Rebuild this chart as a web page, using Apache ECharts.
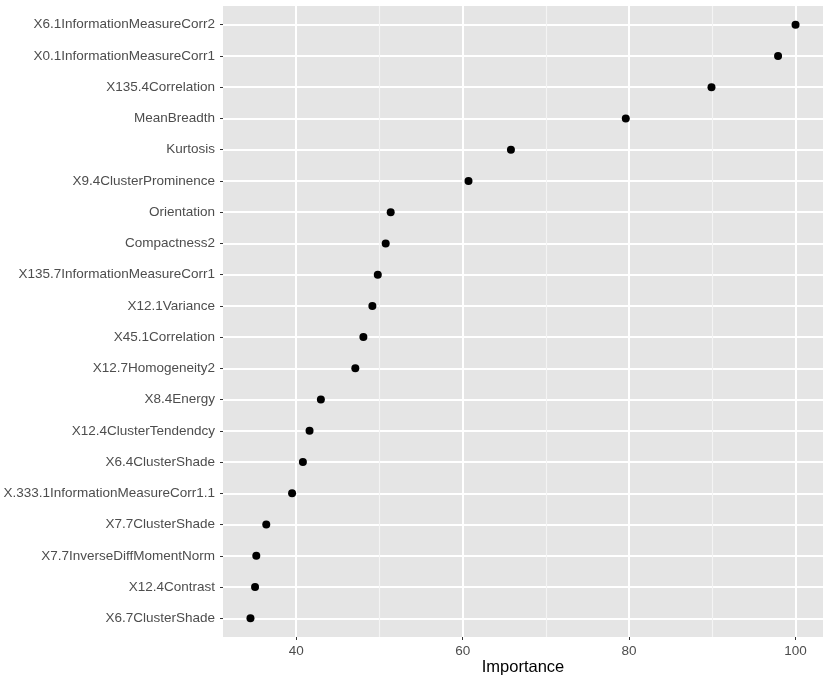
<!DOCTYPE html>
<html>
<head>
<meta charset="utf-8">
<script src="https://cdn.jsdelivr.net/npm/echarts@6/dist/echarts.min.js"></script>
<style>
  html, body { margin: 0; padding: 0; background: #fff; }
  #chart { width: 829px; height: 683px; }
</style>
</head>
<body>
<div id="chart"></div>
<script>
// features, top to bottom
var categories = [
  'X6.1InformationMeasureCorr2',
  'X0.1InformationMeasureCorr1',
  'X135.4Correlation',
  'MeanBreadth',
  'Kurtosis',
  'X9.4ClusterProminence',
  'Orientation',
  'Compactness2',
  'X135.7InformationMeasureCorr1',
  'X12.1Variance',
  'X45.1Correlation',
  'X12.7Homogeneity2',
  'X8.4Energy',
  'X12.4ClusterTendendcy',
  'X6.4ClusterShade',
  'X.333.1InformationMeasureCorr1.1',
  'X7.7ClusterShade',
  'X7.7InverseDiffMomentNorm',
  'X12.4Contrast',
  'X6.7ClusterShade'
];
var importance = [100, 97.9, 89.9, 79.6, 65.8, 60.7, 51.35, 50.75, 49.8, 49.15,
                  48.07, 47.1, 42.96, 41.6, 40.8, 39.5, 36.4, 35.2, 35.05, 34.5];
var majorTicks = [40, 60, 80, 100];
var minorTicks = [50, 70, 90];

var rowIndex = categories.map(function (c, i) { return i; });
var points = importance.map(function (v, i) { return [v, i]; });

var font = 'Liberation Sans, Arial, sans-serif';
var chart = echarts.init(document.getElementById('chart'));
chart.setOption({
  animation: false,
  grid: {
    left: 223,
    right: 6,
    top: 6,
    bottom: 46,
    containLabel: false,
    outerBoundsMode: 'none',
    show: true,
    backgroundColor: '#e5e5e5',
    borderWidth: 0
  },
  xAxis: [
    {
      type: 'value',
      min: 31.2,
      max: 103.3,
      name: 'Importance',
      nameLocation: 'middle',
      nameGap: 22,
      nameMoveOverlap: false,
      nameTextStyle: { fontSize: 16.5, color: '#000', fontFamily: font },
      axisLine: { show: false, onZero: false },
      axisTick: { show: true, length: 3, customValues: majorTicks, lineStyle: { color: '#333', width: 1 } },
      axisLabel: { customValues: majorTicks, margin: 7, fontSize: 13.5, color: '#4d4d4d', fontFamily: font },
      splitLine: { show: true, lineStyle: { color: '#fff', width: 2 } }
    },
    {
      // minor grid lines only
      type: 'value',
      min: 31.2,
      max: 103.3,
      position: 'bottom',
      axisLine: { show: false, onZero: false },
      axisTick: { show: false, customValues: minorTicks },
      axisLabel: { show: false, customValues: minorTicks },
      splitLine: { show: true, lineStyle: { color: '#f4f4f4', width: 1.1 } }
    }
  ],
  yAxis: {
    type: 'value',
    min: -0.6,
    max: 19.6,
    inverse: true,
    axisLine: { show: false, onZero: false },
    axisTick: { show: true, length: 3, customValues: rowIndex, lineStyle: { color: '#333', width: 1 } },
    axisLabel: {
      customValues: rowIndex,
      margin: 8,
      fontSize: 13.5,
      color: '#4d4d4d',
      fontFamily: font,
      formatter: function (v) { return categories[Math.round(v)]; }
    },
    splitLine: { show: true, lineStyle: { color: '#fff', width: 2 } }
  },
  series: [
    {
      type: 'scatter',
      xAxisIndex: 0,
      data: points,
      symbol: 'circle',
      symbolSize: 8,
      itemStyle: { color: '#000', opacity: 1 },
      z: 5
    }
  ]
});
</script>
</body>
</html>
